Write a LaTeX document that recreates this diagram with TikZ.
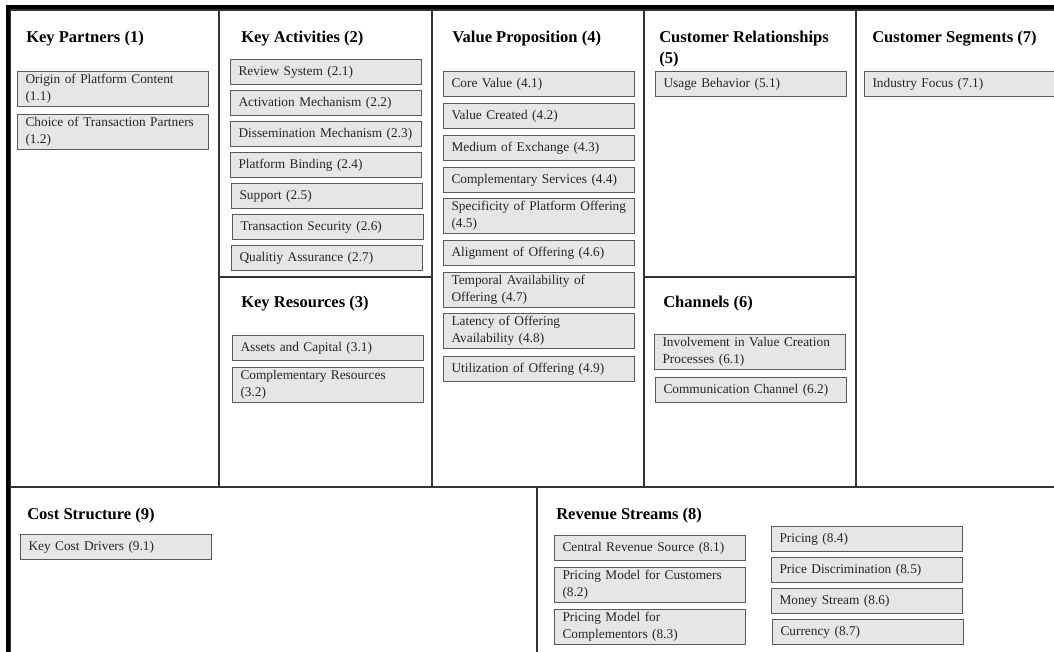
\documentclass[tikz,border=0pt]{standalone}
\usepackage{fontspec}
\setmainfont{Liberation Serif}
\definecolor{itemfill}{HTML}{E6E6E6}
\definecolor{itemline}{HTML}{5A5A5A}
\definecolor{panelline}{HTML}{333333}
\tikzset{
  panel/.style={draw=panelline, line width=1.1pt},
  frame/.style={draw=black, line width=3pt},
  head/.style={anchor=base west, inner sep=0pt, font=\fontsize{12.4}{15.75}\selectfont\bfseries, align=left},
  item/.style={anchor=north west, draw=itemline, fill=itemfill, line width=0.8pt,
    minimum width=143.25pt, text width=131.25pt, inner xsep=6pt, inner ysep=1.5pt,
    minimum height=18.5pt, align=left, text=black!85,
    font=\fontsize{10}{12.75}\selectfont},
  itemtall/.style={item, minimum height=26.25pt}
}
\begin{document}
\begin{tikzpicture}[x=0.75pt, y=-0.75pt]
  % Coordinates
  \coordinate (O) at (0, 0);
  \coordinate (Z) at (1054, 652);
  \coordinate (A) at (10, 10);
  \coordinate (B) at (219, 10);
  \coordinate (C) at (432, 10);
  \coordinate (D) at (644, 10);
  \coordinate (E) at (856, 10);
  \coordinate (F) at (1060, 10);
  \coordinate (G) at (219, 277);
  \coordinate (H) at (644, 277);
  \coordinate (I) at (10, 487);
  \coordinate (J) at (537, 487);
  \coordinate (K) at (1060, 660);

  \useasboundingbox (O) rectangle (Z);
  \clip (O) rectangle (Z);

  % Panels
  \draw[panel] (A) rectangle (219, 487);
  \draw[panel] (B) rectangle (432, 277);
  \draw[panel] (G) rectangle (432, 487);
  \draw[panel] (C) rectangle (644, 487);
  \draw[panel] (D) rectangle (856, 277);
  \draw[panel] (H) rectangle (856, 487);
  \draw[panel] (E) rectangle (1060, 487);
  \draw[panel] (I) rectangle (537, 660);
  \draw[panel] (J) rectangle (K);
  \draw[frame] (7.5, 700) -- (7.5, 7.5) -- (1100, 7.5);

  % Headings
  \node[head] (kp) at (26, 43) {Key Partners (1)};
  \node[head] (ka) at (241, 43) {Key Activities (2)};
  \node[head] (kr) at (241, 308) {Key Resources (3)};
  \node[head] (vp) at (452, 43) {Value Proposition (4)};
  \node[head] (cr) at (659, 64) {Customer Relationships\\(5)};
  \node[head] (ch) at (663, 308) {Channels (6)};
  \node[head] (cs) at (872, 43) {Customer Segments (7)};
  \node[head] (rs) at (556, 519) {Revenue Streams (8)};
  \node[head] (co) at (27, 519) {Cost Structure (9)};

  % Items
  \node[itemtall] (kp1) at (17, 71) {Origin of Platform Content\\(1.1)};
  \node[itemtall] (kp2) at (17, 114) {Choice of Transaction Partners\\(1.2)};

  \node[item] (ka1) at (230, 59) {Review System (2.1)};
  \node[item] (ka2) at (230, 90) {Activation Mechanism (2.2)};
  \node[item] (ka3) at (230, 121) {Dissemination Mechanism (2.3)};
  \node[item] (ka4) at (230, 152) {Platform Binding (2.4)};
  \node[item] (ka5) at (231, 183) {Support (2.5)};
  \node[item] (ka6) at (232, 214) {Transaction Security (2.6)};
  \node[item] (ka7) at (231, 245) {Qualitiy Assurance (2.7)};

  \node[item] (kr1) at (232, 335) {Assets and Capital (3.1)};
  \node[itemtall] (kr2) at (232, 367) {Complementary Resources\\(3.2)};

  \node[item] (vp1) at (443, 71) {Core Value (4.1)};
  \node[item] (vp2) at (443, 103) {Value Created (4.2)};
  \node[item] (vp3) at (443, 135) {Medium of Exchange (4.3)};
  \node[item] (vp4) at (443, 167) {Complementary Services (4.4)};
  \node[itemtall] (vp5) at (443, 198) {Specificity of Platform Offering\\(4.5)};
  \node[item] (vp6) at (443, 240) {Alignment of Offering (4.6)};
  \node[itemtall] (vp7) at (443, 272) {Temporal Availability of\\Offering (4.7)};
  \node[itemtall] (vp8) at (443, 313) {Latency of Offering\\Availability (4.8)};
  \node[item] (vp9) at (443, 356) {Utilization of Offering (4.9)};

  \node[item] (cr1) at (655, 71) {Usage Behavior (5.1)};

  \node[itemtall] (ch1) at (654, 334) {Involvement in Value Creation\\Processes (6.1)};
  \node[item] (ch2) at (655, 377) {Communication Channel (6.2)};

  \node[item] (cs1) at (864, 71) {Industry Focus (7.1)};

  \node[item] (rs1) at (554, 535) {Central Revenue Source (8.1)};
  \node[itemtall] (rs2) at (554, 567) {Pricing Model for Customers\\(8.2)};
  \node[itemtall] (rs3) at (554, 609) {Pricing Model for\\Complementors (8.3)};
  \node[item] (rs4) at (771, 526) {Pricing (8.4)};
  \node[item] (rs5) at (771, 557) {Price Discrimination (8.5)};
  \node[item] (rs6) at (771, 588) {Money Stream (8.6)};
  \node[item] (rs7) at (772, 619) {Currency (8.7)};

  \node[item] (co1) at (20, 534) {Key Cost Drivers (9.1)};
\end{tikzpicture}
\end{document}
